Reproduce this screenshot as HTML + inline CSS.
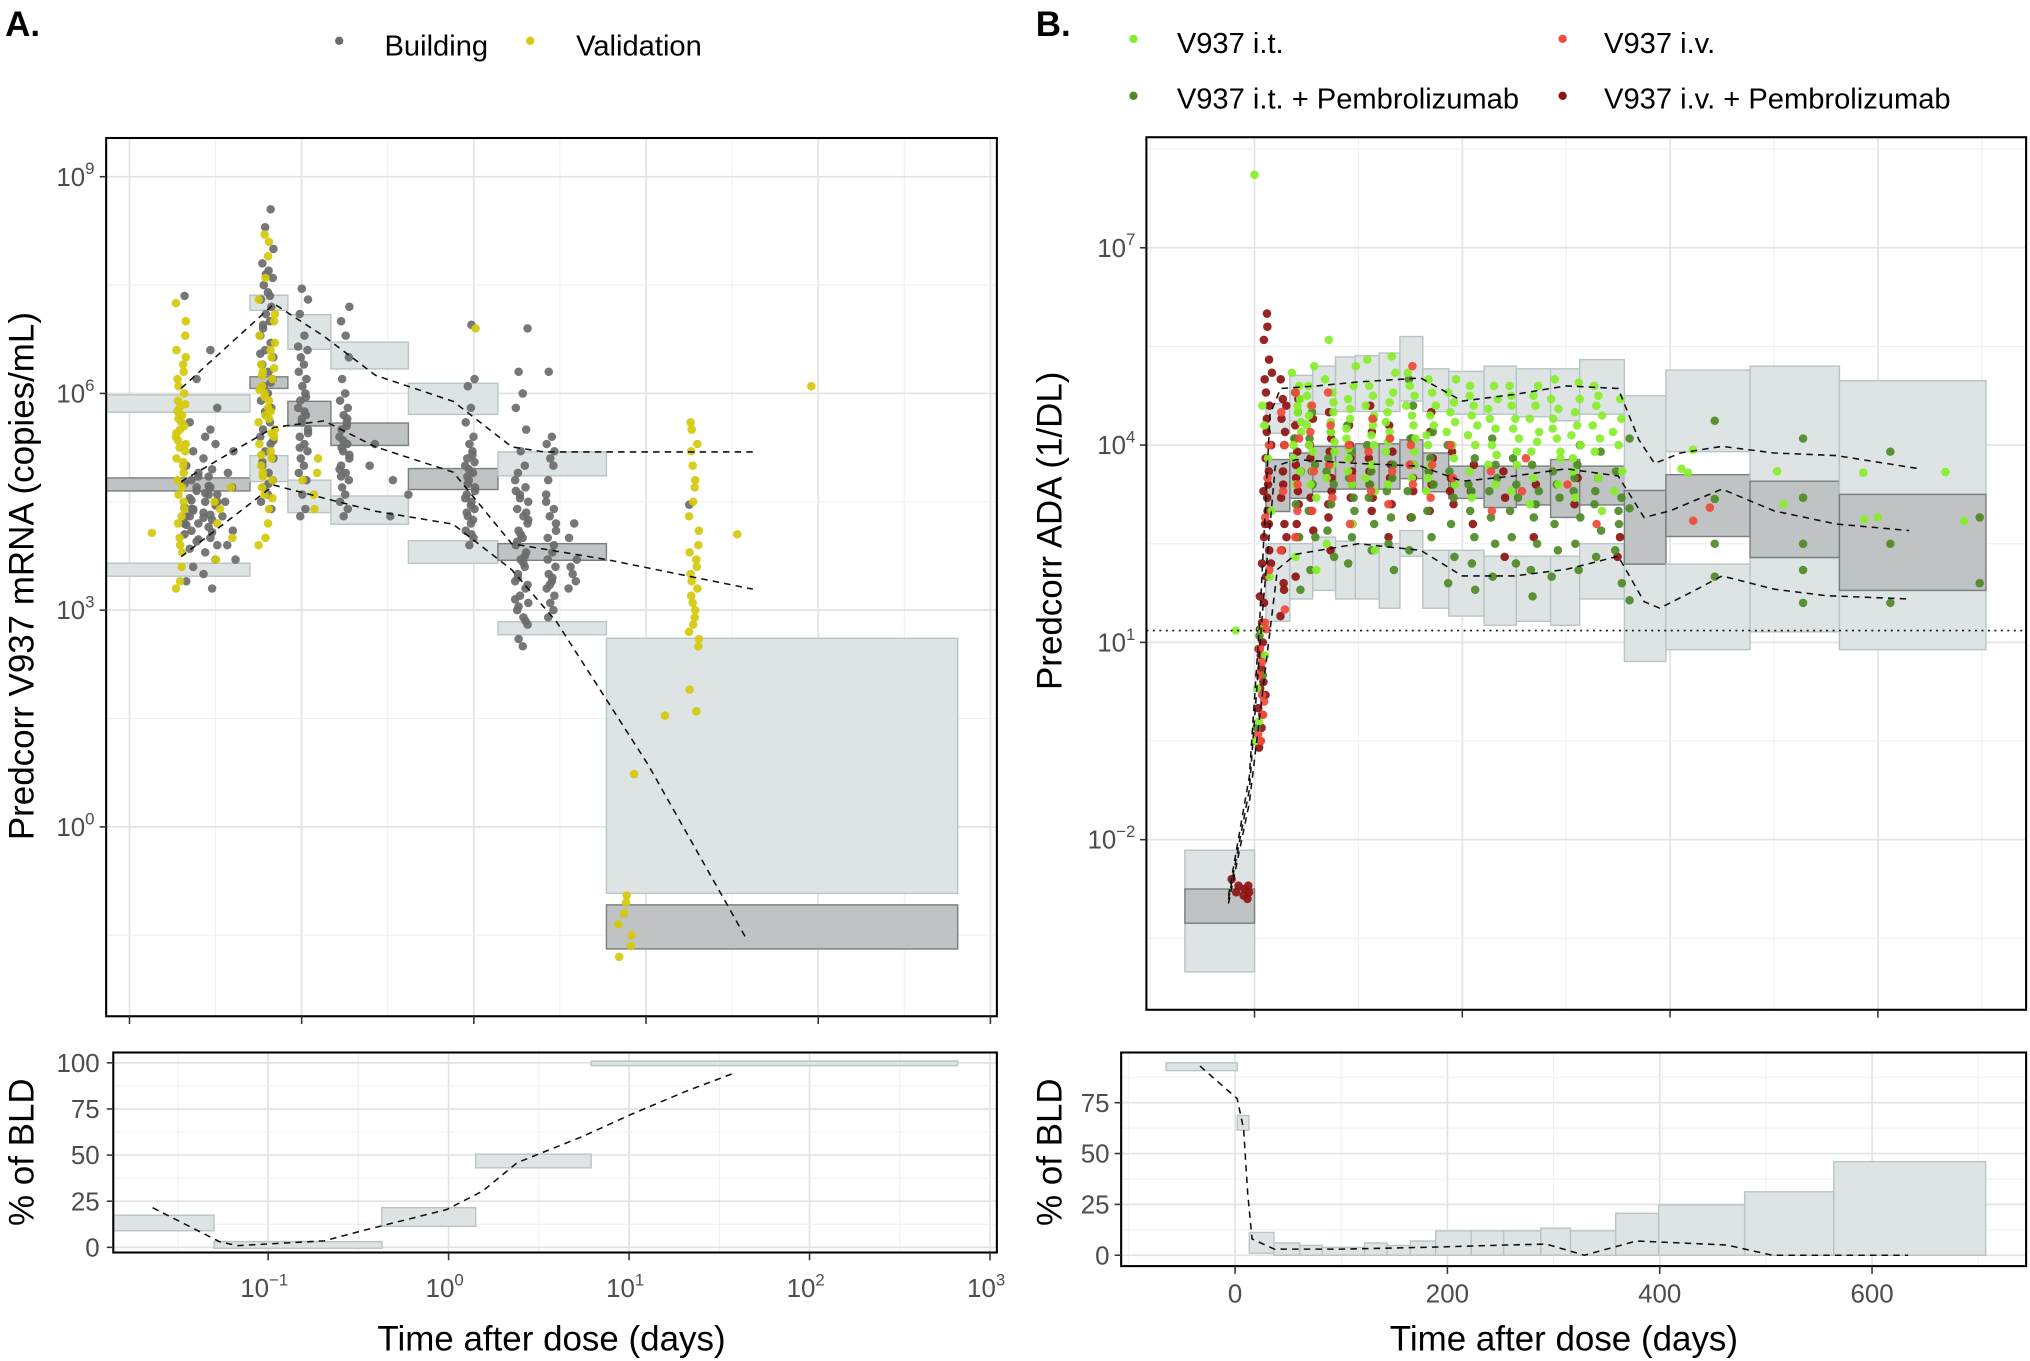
<!DOCTYPE html>
<html><head><meta charset="utf-8">
<style>html,body{margin:0;padding:0;background:#fff;}svg{display:block;font-family:"Liberation Sans",Arial,sans-serif;}</style>
</head><body>
<svg id="fig" width="2030" height="1361" viewBox="0 0 1568 1051.3" preserveAspectRatio="none">
<defs>
<clipPath id="cA"><rect x="82" y="106.6" width="688" height="678.4"/></clipPath>
<clipPath id="cAb"><rect x="87.5" y="813" width="682.5" height="154.5"/></clipPath>
<clipPath id="cB"><rect x="885.5" y="106" width="679.5" height="674"/></clipPath>
<clipPath id="cBb"><rect x="866" y="813" width="699" height="165"/></clipPath>
</defs>
<rect x="0" y="0" width="1568" height="1051.3" fill="#fff"/>
<text x="4" y="28" font-size="27" font-weight="bold" fill="#000">A.</text>
<text x="800" y="28" font-size="27" font-weight="bold" fill="#000">B.</text>
<g>
<circle cx="262" cy="31.5" r="3.2" fill="#6b6b6b"/>
<text x="297" y="43" font-size="22.5" fill="#000">Building</text>
<circle cx="409.5" cy="31.5" r="3.2" fill="#d4c90a"/>
<text x="445" y="43" font-size="22.5" fill="#000">Validation</text>
</g>
<g>
<circle cx="875.5" cy="30" r="3.2" fill="#86ee2a"/>
<text x="909" y="41" font-size="22.5" fill="#000">V937 i.t.</text>
<circle cx="1207" cy="30" r="3.2" fill="#f04a3c"/>
<text x="1239" y="41" font-size="22.5" fill="#000">V937 i.v.</text>
<circle cx="875.5" cy="74" r="3.2" fill="#4e8a26"/>
<text x="909" y="84" font-size="22.5" fill="#000">V937 i.t. + Pembrolizumab</text>
<circle cx="1207" cy="74" r="3.2" fill="#8e1212"/>
<text x="1239" y="84" font-size="22.5" fill="#000">V937 i.v. + Pembrolizumab</text>
</g>
<text transform="translate(26,445) rotate(-90)" text-anchor="middle" font-size="27" fill="#000">Predcorr V937 mRNA (copies/mL)</text>
<text transform="translate(26,890) rotate(-90)" text-anchor="middle" font-size="27" fill="#000">% of BLD</text>
<text x="426" y="1043" text-anchor="middle" font-size="27" fill="#000">Time after dose (days)</text>
<text transform="translate(820,410) rotate(-90)" text-anchor="middle" font-size="27" fill="#000">Predcorr ADA (1/DL)</text>
<text transform="translate(820,890) rotate(-90)" text-anchor="middle" font-size="27" fill="#000">% of BLD</text>
<text x="1208" y="1043" text-anchor="middle" font-size="27" fill="#000">Time after dose (days)</text>
<g id="layer"></g>
</svg>
<script>
// ---------- Panel A data (log10 time in days, log10 copies/mL) ----------
const aBuildCx = [-1.58,-1.20,-0.99,-0.75,-0.5,-0.02,0.28,0.45,0.58,1.26,-1.42];
const aBuildY = [
 [7.35,6.6,6.2,5.8,5.6,5.4,5.3,5.2,5.1,5.0,4.95,4.9,4.85,4.8,4.75,4.7,4.65,4.6,4.55,4.5,4.45,4.4,4.35,4.3,4.25,4.2,4.15,4.1,4.05,4.0,3.95,3.9,3.85,3.8,3.7,3.6,3.5,3.4,3.3,4.85,4.6,4.4,4.2,5.5,4.7,4.5,4.3,4.62,4.48,4.38,4.28,4.18,4.08,3.98,4.72,4.52,4.42,4.32],
 [8.55,8.3,8.0,7.8,7.7,7.6,7.5,7.4,7.3,7.2,7.1,7.0,6.9,6.8,6.7,6.6,6.5,6.4,6.3,6.2,6.1,6.0,5.9,5.8,5.7,5.6,5.5,5.4,5.3,5.2,5.1,5.0,4.9,4.8,4.7,4.6,4.5,4.4,7.65,7.35,6.95,6.55,6.15,5.75,5.35,5.05,4.75],
 [7.45,7.3,7.1,6.8,6.6,6.5,6.4,6.3,6.2,6.1,6.0,5.9,5.8,5.7,5.6,5.5,5.4,5.3,5.2,5.1,5.0,4.9,4.8,4.6,4.4,4.3,6.65,5.95,5.65,5.45,5.25,5.75],
 [7.2,7.0,6.8,6.5,6.2,6.0,5.9,5.8,5.7,5.6,5.5,5.4,5.3,5.2,5.1,5.0,4.9,4.8,4.7,4.6,4.5,4.4,4.3,5.55,5.25,4.95,5.65,5.35,5.15,4.85],
 [5.0,4.8,4.6,5.3,4.3],
 [6.95,6.2,6.1,5.8,5.6,5.4,5.3,5.2,5.1,5.0,4.9,4.8,4.7,4.6,4.5,4.4,4.3,4.2,4.1,4.0,3.9,5.15,4.85,4.55,4.25,4.95,4.65,4.35,4.05,5.05,4.75,4.45],
 [6.9,6.3,6.0,5.8,5.5,5.2,5.0,4.9,4.8,4.7,4.6,4.5,4.4,4.3,4.2,4.1,4.0,3.9,3.8,3.7,3.6,3.5,3.4,3.3,3.2,3.1,3.0,2.9,2.8,2.6,2.5,4.65,4.35,4.05,3.75,3.45,3.15,2.85,4.55,4.25,3.95,3.65,3.35,3.05],
 [6.3,5.4,5.3,5.2,5.1,5.0,4.8,4.6,4.4,4.3,4.2,4.0,3.8,3.6,3.5,3.4,3.3,3.2,3.1,3.0,2.9,4.5,3.9,3.35,4.1,3.7,3.45],
 [4.2,4.0,3.7,3.5,3.4,3.6,3.3],
 [4.46],
 [5.2,4.9,4.7,4.5,4.3,4.1,3.9,3.7]
];
const aBuildSpread = [0.1,0.04,0.03,0.03,0.15,0.03,0.04,0.03,0.03,0.01,0.04];
const aValCx = [-1.70,-1.45,-1.20,-0.95,1.28,0.88,0.01,1.96,1.53,1.11,0.93,-1.87];
const aValY = [
 [7.25,7.0,6.8,6.6,6.4,6.3,6.2,6.1,6.0,5.9,5.8,5.7,5.6,5.5,5.4,5.3,5.2,5.1,5.0,4.9,4.8,4.6,4.4,4.2,4.0,3.8,3.6,3.4,3.3,6.5,5.85,5.45,5.05,4.5,5.75,5.65,5.55,5.35,5.25,4.7,4.3,3.9],
 [4.7,4.5,4.2,4.0,3.7,4.4],
 [8.2,8.1,7.9,7.6,7.3,7.1,7.0,6.8,6.6,6.5,6.4,6.3,6.2,6.1,6.0,5.9,5.8,5.7,5.6,5.5,5.4,5.3,5.2,5.1,5.0,4.9,4.8,4.7,4.6,4.4,4.2,4.0,3.9,6.7,6.35,6.05,5.75,5.45,5.15,4.85,4.55,6.25,5.95,5.65],
 [5.1,4.9,4.8,4.6,4.4],
 [5.6,5.5,5.3,5.2,5.0,4.8,4.7,4.5,4.3,4.1,3.9,3.8,3.7,3.6,3.5,3.4,3.3,3.2,3.1,3.0,2.9,2.8,2.7,2.6,2.5,1.9,1.6],
 [-0.95,-1.05,-1.2,-1.35,-1.5,-1.65,-1.8],
 [6.9],[6.1],[4.05],[1.54],[0.73],[4.07]
];
const aValSpread = [0.03,0.08,0.05,0.05,0.03,0.04,0,0,0,0,0,0];
// VPC bins, panel A
const aBinX0 = [-2.14,-1.30,-1.08,-0.83,-0.38,0.14,0.77];
const aBinX1 = [-1.30,-1.08,-0.83,-0.38,0.14,0.77,2.81];
const aUpHi = [5.98,7.36,7.09,6.71,6.14,5.19,2.61];
const aUpLo = [5.74,7.15,6.61,6.34,5.71,4.86,-0.92];
const aMedHi = [4.83,6.23,5.89,5.59,4.96,3.92,-1.08];
const aMedLo = [4.65,6.07,5.55,5.28,4.67,3.69,-1.69];
const aLoHi = [3.65,5.14,4.80,4.58,3.96,2.84,null];
const aLoLo = [3.47,4.78,4.35,4.19,3.65,2.66,null];
const aUpperLineX = [-1.70,-1.16,-0.87,-0.57,-0.12,0.22,0.41,1.62];
const aUpperLineY = [6.07,7.24,6.79,6.25,5.89,5.26,5.19,5.19];
const aMedLineX = [-1.70,-1.16,-0.87,-0.57,-0.12,0.22,0.77,1.62];
const aMedLineY = [4.78,5.53,5.62,5.26,4.91,3.92,3.70,3.29];
const aLowLineX = [-1.70,-1.16,-0.87,-0.57,-0.12,0.22,0.48,1.01,1.59];
const aLowLineY = [3.74,4.73,4.55,4.37,4.19,3.56,2.84,0.87,-1.58];
// Panel A BLD
const aBldX0 = [-2.0,-1.30,-0.37,0.15,0.79];
const aBldX1 = [-1.30,-0.37,0.15,0.79,2.82];
const aBldHi = [17.4,3.1,21.5,50.5,101];
const aBldLo = [9.0,-0.5,11.4,43.1,98.5];
const aBldLineX = [-1.64,-1.27,-1.17,-0.69,-0.48,-0.01,0.19,0.38,0.74,1.01,1.32,1.57];
const aBldLineY = [21.5,3.1,0.9,3.5,9.0,20.5,30.6,45.9,60,72,84.8,94];
const aYTicks = [9,6,3,0];
const aXTicks = [-2,-1,0,1,2,3];
const aBldYTicks = [100,75,50,25,0];
const aBldXTicks = [-1,0,1,2,3];

// ---------- Panel B data (days, log10 ADA) ----------
const bItDays = [6,12,41,55,73,93,112,131,151,170,190,210,230,250,270,290,310,330,350];
const bItVals = [
 [-0.5,-0.2,0.3,0.8,1.2],[2.0,3.0,3.8,4.3,4.6],
 [3.4,3.8,4.2,4.5,4.7,4.9,5.1,2.3,4.0,4.35,4.6,3.6],[3.2,3.6,4.0,4.3,4.6,4.9,5.2,2.1,3.9,4.45,4.75,3.4],
 [3.5,3.9,4.2,4.5,4.8,5.0,5.6,2.5,4.05,4.35,4.65,3.7],[3.4,3.8,4.1,4.4,4.7,4.9,5.2,2.8,3.95,4.25,4.55,3.6],
 [3.3,3.7,4.0,4.3,4.6,4.9,5.3,2.4,4.15,4.45,4.75,3.5],[3.4,3.9,4.2,4.5,4.8,5.1,5.35,4.05,4.35,4.65],
 [3.5,3.9,4.3,4.6,4.9,5.1,4.1,4.45,4.75,3.7],[3.3,3.7,4.0,4.3,4.6,4.8,5.0,4.15,4.45,3.5],[3.4,3.8,4.2,4.5,4.8,5.0,4.0,4.35,4.65],
 [3.2,3.6,4.0,4.3,4.6,4.9,4.15,4.45,4.75],[3.4,3.7,4.0,4.4,4.7,4.9,3.85,4.25,4.55],[3.3,3.7,4.1,4.4,4.6,4.9,4.25,4.75,3.9],[3.1,3.5,3.9,4.2,4.6,4.9,4.05,4.4,4.75],
 [3.4,3.8,4.1,4.4,4.7,5.0,4.25,4.55,3.9],[3.2,3.6,4.0,4.3,4.7,4.95,4.15,4.5,3.8],[3.0,3.5,3.9,4.3,4.6,4.9,4.1,4.45,4.75],[3.3,3.6,4.0,4.4,4.7,4.2]
];
const bItLateDays = [411,422,417,503,509,586,587,600,665,683,0,-18];
const bItLateVals = [3.64,3.93,3.58,3.6,3.1,3.58,2.87,2.9,3.59,2.85,8.11,1.18];
const bItpDays = [6,41,55,73,93,112,131,151,170,190,210,230,250,270,290,310,330,350];
const bItpVals = [
 [-0.3,0.5,1.1],[2.6,3.1,3.6,4.1,4.5,1.8,4.8],[2.1,2.6,3.0,3.4,3.7,4.1,4.5],[2.3,2.7,3.1,3.4,3.8,4.2,3.6],[2.2,2.6,3.0,3.5,3.9,4.3,3.2],
 [2.4,2.8,3.2,3.6,4.0,4.4,3.4],[2.1,2.5,2.9,3.3,3.7,4.1,3.5],[2.4,2.9,3.3,3.7,4.1,4.6,5.0],[2.6,3.0,3.4,3.8,4.2,3.6],
 [1.9,2.3,2.8,3.2,3.6,4.0,3.4],[1.8,2.2,2.6,3.0,3.4,3.8,3.3],[2.0,2.5,2.9,3.3,3.7,4.1,3.5],[2.2,2.6,3.0,3.4,3.8,3.2],
 [1.7,2.1,2.5,2.9,3.3,3.7,3.1],[2.0,2.4,2.8,3.2,3.6,3.4],[2.1,2.5,2.9,3.3,3.7,4.0,3.5],[2.3,2.7,3.1,3.5,3.9,3.3],[1.9,2.4,2.8,3.2,3.6,3.0]
];
const bItpLateDays = [361,361,361,443,443,443,443,528,528,528,528,528,612,612,612,698,698];
const bItpLateVals = [4.1,3.04,1.64,4.37,3.18,2.5,2.0,4.1,3.2,2.5,2.1,1.6,3.9,2.5,1.6,2.9,1.9];
const bIvDays = [6,8,12,27,41,55,73,93,112,131,151,170,190,230,260,300,330,420,440];
const bIvVals = [
 [-0.4,0.2,0.9,-0.1,0.5],[0.1,0.7,1.3,-0.5],[1.2,2.1,2.9,3.5,4.0],[1.5,2.4,3.3,4.0,4.5],[2.6,3.4,4.1,4.8,3.0],
 [3.0,3.6,4.2,4.6],[3.2,3.7,4.3,4.8],[2.8,3.5,4.0],[3.3,3.9,4.4],[3.1,3.6,4.1],[3.4,4.0,5.2,3.7],[3.2,3.7],[3.5,4.0],
 [3.0,3.6],[3.3,3.8],[3.4],[2.8],[2.85],[3.05]
];
const bIvpDays = [-20,-17,-14,-12,-10,-8,-6,-4,5,7,9,11,13,15,27,29,41,55,73,93,112,131,151,170,190,210,240,270,310,350];
const bIvpVals = [
 [-2.6],[-2.8],[-2.7],[-2.85],[-2.75],[-2.9],[-2.8],[-2.7],
 [-0.6,-0.3,0.0,0.3,0.6,0.9,1.2],[-0.5,-0.1,0.4,0.8,1.3,1.7],[0.2,1.0,1.6,2.2,2.8,3.3],[2.0,2.6,3.2,3.8,4.4,5.0,5.6,6.0],
 [2.4,3.0,3.6,4.2,4.8,5.3,5.8],[2.2,2.8,3.4,4.0,4.6,5.1],
 [1.4,1.9,2.4,2.8,3.2,3.6,4.0,4.4,4.7,5.0],[1.8,2.6,3.4,4.2,4.6],
 [2.0,2.6,3.1,3.5,3.9,4.3,4.7,2.8,3.3,3.7,4.1],[2.7,3.2,3.6,4.0,4.4,3.0,3.4,3.8],[2.4,2.9,3.3,3.7,4.1,4.5,3.1,3.5,3.9],
 [2.8,3.2,3.6,4.0,4.3,3.4,3.8],[3.0,3.4,3.8,4.2,4.6,3.2,3.6],[2.6,3.1,3.5,3.9,4.3,3.7],[2.9,3.3,3.7,4.1,3.5],
 [3.0,3.4,3.8,4.2,4.5,3.6],[3.1,3.5,3.9,3.3],[2.8,3.3,3.7],[3.2,3.6,2.3],[3.4,2.6],[3.1,3.5],[2.3,2.6],[2.2,3.9]
];
// VPC bins, panel B
const bBinX0 = [-67,11,34,56,78,97,120,140,162,187,221,252,285,313,356,396,477,563];
const bBinX1 = [0,34,56,78,97,120,140,162,187,221,252,285,313,356,396,477,563,704];
const bUpHi = [-2.16,4.63,5.06,5.20,5.34,5.36,5.40,5.65,5.16,5.12,5.20,5.16,5.16,5.30,4.75,5.14,5.20,4.98];
const bUpLo = [-2.81,4.18,4.37,4.47,4.51,4.51,4.51,4.67,4.51,4.47,4.47,4.43,4.37,4.47,3.31,3.90,3.45,3.25];
const bMedHi = [-2.75,3.78,3.88,3.98,3.98,4.02,4.02,4.08,3.88,3.68,3.68,3.68,3.78,3.68,3.31,3.55,3.45,3.25];
const bMedLo = [-3.27,2.99,3.19,3.29,3.33,3.33,3.33,3.49,3.29,3.19,3.05,3.09,2.90,3.09,2.19,2.61,2.29,1.79];
const bLoHi = [-3.11,2.50,2.50,2.60,2.54,2.50,2.50,2.70,2.40,2.40,2.31,2.31,2.31,2.50,2.19,2.19,2.29,2.11];
const bLoLo = [-4.01,1.32,1.66,1.79,1.66,1.66,1.52,2.31,1.52,1.40,1.26,1.32,1.26,1.66,0.71,0.89,1.16,0.89];
const bUpperDays = [-25,-5,5,15,25,60,100,160,200,250,300,350,370,385,410,450,500,560,640];
const bUpperVals = [-2.85,-1.04,1.32,4.47,4.86,4.90,4.96,5.02,4.67,4.77,4.90,4.86,4.08,3.72,3.88,3.98,3.88,3.84,3.64];
const bMedDays = [-25,-5,8,20,40,100,160,200,250,300,350,375,400,450,500,560,630];
const bMedVals = [-2.91,-1.24,1.52,3.68,3.78,3.72,3.68,3.45,3.53,3.64,3.53,2.90,3.00,3.33,3.00,2.80,2.70];
const bLowDays = [-25,-5,10,22,40,100,160,200,250,300,350,375,390,420,450,500,550,630];
const bLowVals = [-2.97,-1.44,0.53,2.11,2.34,2.50,2.40,2.01,2.01,2.11,2.31,1.62,1.52,1.76,2.01,1.81,1.71,1.66];
const bLloq = 1.18;
// Panel B BLD
const bBldX0 = [-65,2,13.4,36.6,61,82,122,143,165,189,222.5,253,288,316,358.5,399,480,564];
const bBldX1 = [2,13,36.6,61,82,122,143,165,189,222.5,253,288,316,358.5,399,480,564,707];
const bBldHi = [94.6,68.7,11.2,6,4.8,3.9,6,4.8,7,12,12,12,13.3,12,20.6,24.8,31.2,46];
const bBldLo = [90.8,61.5,1,0,0,0,0,0,0,0,0,0,0,0,0,0,0,0];
const bBldLineX = [-33,2,8,12,16,37,100,189,256,293,329,378,463,506,634];
const bBldLineY = [93,77,62,30,8,3,3,4,5,5.5,0,7,5,0,0];
const bYTicks = [7,4,1,-2];
const bXTicks = [0,200,400,600];
const bBldYTicks = [75,50,25,0];

// ---------- scales ----------
const ax = l => 100 + 133*(l+2);
const ay = l => 638.7 - 55.8*l;
const abx = l => 346.5 + 139.4*l;
const aby = p => 963.5 - 1.425*p;
const bx = d => 969 + 0.8025*d;
const by = l => 547 - 50.8*l;
const bbx = d => 954 + 0.82*d;
const bby = p => 969.6 - 1.571*p;
const JIT = [-1,0.5,-0.3,0.9,-0.7,0.2,0.8,-0.5,0.1,-0.9,0.6,-0.2,0.4,-0.6];

const NS = 'http://www.w3.org/2000/svg';
const root = document.getElementById('layer');
function mk(tag, attrs, parent){
  const e = document.createElementNS(NS, tag);
  for (const k in attrs) e.setAttribute(k, attrs[k]);
  parent.appendChild(e);
  return e;
}
function grp(name, clip){
  const g = mk('g', clip ? {'clip-path':'url(#'+clip+')'} : {}, root);
  
  
  return g;
}
function gridLine(g, x1,y1,x2,y2, major){
  const l = mk('line', {x1:x1,y1:y1,x2:x2,y2:y2,stroke: major?'#e3e3e3':'#efefef','stroke-width': major?1.3:0.8}, g);
  
  
}
function tick(g, x1,y1,x2,y2){
  const l = mk('line', {x1:x1,y1:y1,x2:x2,y2:y2,stroke:'#333','stroke-width':1.2}, g);
  
  
}
function pow10(g, x, y, exp, anchor, name){
  const t = mk('text', {x:x, y:y, 'font-size':20, fill:'#4d4d4d', 'text-anchor':anchor}, g);
  
  
  t.appendChild(document.createTextNode('10'));
  const s = mk('tspan', {dy:-9, 'font-size':13}, t);
  s.textContent = String(exp).replace('-', '\u2212');
  return t;
}
function plain(g, x, y, txt, anchor, name){
  const t = mk('text', {x:x, y:y, 'font-size':20, fill:'#4d4d4d', 'text-anchor':anchor}, g);
  
  
  t.textContent = txt;
}
function box(g, x0,x1,y0,y1, dark, name){
  const r = mk('rect', {x:Math.min(x0,x1), y:Math.min(y0,y1), width:Math.abs(x1-x0), height:Math.abs(y1-y0),
    fill: dark?'#bcc0c0':'#dee4e4', stroke: dark?'#7a7f7f':'#b9c5c5', 'stroke-width':1.1, 'fill-opacity': dark?0.95:1}, g);
  
  
}
function pt(g, x, y, color, name){
  const c = mk('circle', {cx:x, cy:y, r:3.3, fill:color, 'fill-opacity':0.92}, g);
  
  
}
function dline(g, xs, ys, fx, fy, name, dash){
  const d = xs.map((v,i)=>(i?'L':'M')+fx(v).toFixed(1)+','+fy(ys[i]).toFixed(1)).join(' ');
  const p = mk('path', {d:d, fill:'none', stroke:'#111', 'stroke-width':1.2, 'stroke-dasharray': dash||'5,4'}, g);
  
  
}
function border(x,y,w,h,name){
  const r = mk('rect', {x:x,y:y,width:w,height:h,fill:'none',stroke:'#000','stroke-width':1.6}, root);
  
  
}

// ===== Panel A main =====
const gAg = grp('a-grid', 'cA');
for (let l=-2.5; l<=3.01; l+=0.5) gridLine(gAg, ax(l),106.6, ax(l),785, Math.abs(l-Math.round(l))<0.01);
for (let l=-1.5; l<=9.6; l+=1.5) gridLine(gAg, 82,ay(l),770,ay(l), Math.abs(l/3-Math.round(l/3))<0.01);
const gAb = grp('a-vpc-boxes', 'cA');
aBinX0.forEach((x0,i)=>{
  box(gAb, ax(x0), ax(aBinX1[i]), ay(aUpHi[i]), ay(aUpLo[i]), false, 'a-upper-ci-box');
  if (aLoHi[i]!==null) box(gAb, ax(x0), ax(aBinX1[i]), ay(aLoHi[i]), ay(aLoLo[i]), false, 'a-lower-ci-box');
  box(gAb, ax(x0), ax(aBinX1[i]), ay(aMedHi[i]), ay(aMedLo[i]), true, 'a-median-ci-box');
});
const gAp = grp('a-points', 'cA');
aBuildCx.forEach((cx,i)=>{ aBuildY[i].forEach((v,j)=>{ pt(gAp, ax(cx + JIT[(j+i)%JIT.length]*aBuildSpread[i]), ay(v), '#6b6b6b', 'building-point'); }); });
aValCx.forEach((cx,i)=>{ aValY[i].forEach((v,j)=>{ pt(gAp, ax(cx + JIT[(j*3+i)%JIT.length]*aValSpread[i]), ay(v), '#d4c90a', 'validation-point'); }); });
const gAl = grp('a-percentile-lines', 'cA');
dline(gAl, aUpperLineX, aUpperLineY, ax, ay, 'a-upper-percentile-line');
dline(gAl, aMedLineX, aMedLineY, ax, ay, 'a-median-line');
dline(gAl, aLowLineX, aLowLineY, ax, ay, 'a-lower-percentile-line');
border(82,106.6,688,678.4,'a-main-panel-border');
const gAt = grp('a-axes');
aYTicks.forEach(e=>{ tick(gAt, 77,ay(e),82,ay(e)); pow10(gAt, 73, ay(e)+7, e, 'end', 'a-y-tick-label'); });
aXTicks.forEach(l=>{ tick(gAt, ax(l),785,ax(l),791); });

// ===== Panel A BLD =====
const gAbg = grp('a-bld-grid', 'cAb');
for (let l=-2.5; l<=3.01; l+=0.5) gridLine(gAbg, abx(l),813, abx(l),967.5, Math.abs(l-Math.round(l))<0.01);
for (let p=0; p<=100; p+=12.5) gridLine(gAbg, 87.5,aby(p),770,aby(p), p%25===0);
const gAbb = grp('a-bld-boxes', 'cAb');
aBldX0.forEach((x0,i)=> box(gAbb, abx(x0), abx(aBldX1[i]), aby(aBldHi[i]), aby(aBldLo[i]), false, 'a-bld-ci-box'));
dline(grp('a-bld-line','cAb'), aBldLineX, aBldLineY, abx, aby, 'a-bld-percent-line');
border(87.5,813,682.5,154.5,'a-bld-panel-border');
const gAbt = grp('a-bld-axes');
aBldYTicks.forEach(p=>{ tick(gAbt, 82.5,aby(p),87.5,aby(p)); plain(gAbt, 77, aby(p)+7, String(p), 'end', 'a-bld-y-tick-label'); });
aBldXTicks.forEach(l=>{ tick(gAbt, abx(l),967.5,abx(l),973.5); pow10(gAbt, abx(l)-3, 1002, l, 'middle', 'a-x-tick-label'); });

// ===== Panel B main =====
const gBg = grp('b-grid', 'cB');
for (let d=-100; d<=700; d+=100) gridLine(gBg, bx(d),106, bx(d),780, d%200===0);
for (let l=-3.5; l<=8.6; l+=1.5) gridLine(gBg, 885.5,by(l),1565,by(l), Math.abs((l-1)/3-Math.round((l-1)/3))<0.01);
const gBb = grp('b-vpc-boxes', 'cB');
bBinX0.forEach((x0,i)=>{
  box(gBb, bx(x0), bx(bBinX1[i]), by(bUpHi[i]), by(bUpLo[i]), false, 'b-upper-ci-box');
  box(gBb, bx(x0), bx(bBinX1[i]), by(bLoHi[i]), by(bLoLo[i]), false, 'b-lower-ci-box');
  box(gBb, bx(x0), bx(bBinX1[i]), by(bMedHi[i]), by(bMedLo[i]), true, 'b-median-ci-box');
});
const gBp = grp('b-points', 'cB');
bIvpDays.forEach((d,i)=> bIvpVals[i].forEach((v,j)=> pt(gBp, bx(d + JIT[(j+2*i)%JIT.length]*2), by(v), '#8e1212', 'iv-pembro-point')));
bItpDays.forEach((d,i)=> bItpVals[i].forEach((v,j)=> pt(gBp, bx(d + JIT[(j+i)%JIT.length]*4), by(v), '#4e8a26', 'it-pembro-point')));
bItpLateDays.forEach((d,i)=> pt(gBp, bx(d), by(bItpLateVals[i]), '#4e8a26', 'it-pembro-point'));
bItDays.forEach((d,i)=> bItVals[i].forEach((v,j)=> pt(gBp, bx(d + JIT[(j*2+i)%JIT.length]*5), by(v), '#86ee2a', 'it-point')));
bItLateDays.forEach((d,i)=> pt(gBp, bx(d), by(bItLateVals[i]), '#86ee2a', 'it-point'));
bIvDays.forEach((d,i)=> bIvVals[i].forEach((v,j)=> pt(gBp, bx(d + JIT[(j+i)%JIT.length]*2.5), by(v), '#f04a3c', 'iv-point')));
const gBl = grp('b-percentile-lines', 'cB');
dline(gBl, bUpperDays, bUpperVals, bx, by, 'b-upper-percentile-line');
dline(gBl, bMedDays, bMedVals, bx, by, 'b-median-line');
dline(gBl, bLowDays, bLowVals, bx, by, 'b-lower-percentile-line');
const ll = mk('line', {x1:885.5, x2:1565, y1:by(bLloq), y2:by(bLloq), stroke:'#111', 'stroke-width':1.3, 'stroke-dasharray':'1.5,3.5'}, gBl);


border(885.5,106,679.5,674,'b-main-panel-border');
const gBt = grp('b-axes');
bYTicks.forEach(e=>{ tick(gBt, 880.5,by(e),885.5,by(e)); pow10(gBt, 877, by(e)+7, e, 'end', 'b-y-tick-label'); });
bXTicks.forEach(d=>{ tick(gBt, bx(d),780,bx(d),786); });

// ===== Panel B BLD =====
const gBbg = grp('b-bld-grid', 'cBb');
for (let d=-100; d<=700; d+=100) gridLine(gBbg, bbx(d),813, bbx(d),978, d%200===0);
for (let p=0; p<=100; p+=12.5) gridLine(gBbg, 866,bby(p),1565,bby(p), p%25===0);
const gBbb = grp('b-bld-boxes', 'cBb');
bBldX0.forEach((x0,i)=> box(gBbb, bbx(x0), bbx(bBldX1[i]), bby(bBldHi[i]), bby(bBldLo[i]), false, 'b-bld-ci-box'));
dline(grp('b-bld-line','cBb'), bBldLineX, bBldLineY, bbx, bby, 'b-bld-percent-line');
border(866,813,699,165,'b-bld-panel-border');
const gBbt = grp('b-bld-axes');
bBldYTicks.forEach(p=>{ tick(gBbt, 861,bby(p),866,bby(p)); plain(gBbt, 857, bby(p)+7, String(p), 'end', 'b-bld-y-tick-label'); });
bXTicks.forEach(d=>{ tick(gBbt, bbx(d),978,bbx(d),984); plain(gBbt, bbx(d), 1006, String(d), 'middle', 'b-x-tick-label'); });
</script>
</body></html>
